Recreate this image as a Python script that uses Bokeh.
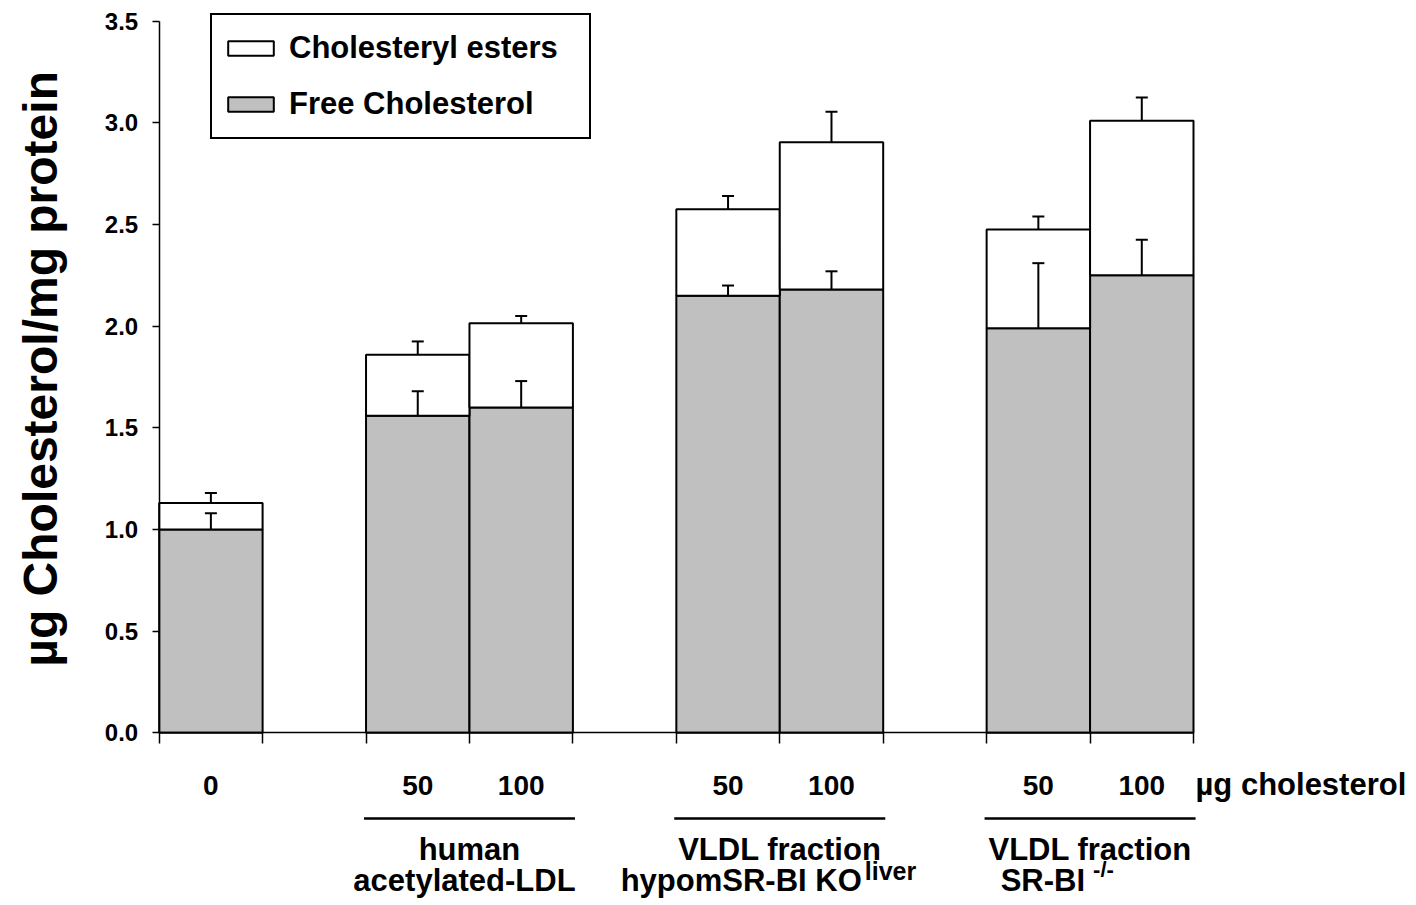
import math
from bokeh.plotting import figure
from bokeh.models import (Range1d, LinearAxis, FixedTicker, Whisker, TeeHead,
                          ColumnDataSource, Legend, LegendItem, PrintfTickFormatter,
                          CustomJSTickFormatter)
from bokeh.core.properties import value
from bokeh.embed import file_html
from bokeh.resources import INLINE

# ---------------- data ----------------
group_doses = [["0"], ["50", "100"], ["50", "100"], ["50", "100"]]
doses = ["0", "50", "100", "50", "100", "50", "100"]
free_chol = [1.00, 1.56, 1.60, 2.15, 2.18, 1.99, 2.25]
free_chol_sem = [0.08, 0.12, 0.13, 0.05, 0.09, 0.32, 0.175]
total_chol = [1.13, 1.86, 2.015, 2.575, 2.905, 2.475, 3.01]
total_chol_sem = [0.05, 0.065, 0.035, 0.065, 0.15, 0.065, 0.115]
group_line1 = ["", "human", "VLDL fraction", "VLDL fraction"]
group_line2 = ["", "acetylated-LDL", "hypomSR-BI KO", "SR-BI"]
group_sup = ["", "", "liver", "-/-"]
y_ticks = [0.0, 0.5, 1.0, 1.5, 2.0, 2.5, 3.0, 3.5]
dose_unit = "µg cholesterol"
y_title = "µg Cholesterol/mg protein"
legend_labels = ["Cholesteryl esters", "Free Cholesterol"]

# ---------------- layout from structure ----------------
left_edges, group_start, group_end = [], [], []
pos = 0.0
for gi, ds in enumerate(group_doses):
    if gi > 0:
        pos += 1.0  # one bar-width gap between groups
    group_start.append(pos)
    for _ in ds:
        left_edges.append(pos)
        pos += 1.0
    group_end.append(pos)
centers = [l + 0.5 for l in left_edges]
edges = sorted(set(left_edges + [l + 1.0 for l in left_edges]))
group_centers = [(s + e) / 2 for s, e in zip(group_start, group_end)]

FONT = value("Liberation Sans")
GRAY = "#c0c0c0"

src = ColumnDataSource(dict(
    x=centers, free=free_chol, total=total_chol,
    free_up=[v + e for v, e in zip(free_chol, free_chol_sem)],
    total_up=[v + e for v, e in zip(total_chol, total_chol_sem)],
))

p = figure(width=1416, height=905, output_backend="svg", toolbar_location=None,
           x_range=Range1d(-1.534, 12.156), y_range=Range1d(-0.8495, 3.602),
           x_axis_location=None, y_axis_location=None,
           min_border_left=0, min_border_top=0, min_border_right=0, min_border_bottom=0)
for g in p.grid:
    g.visible = False
p.outline_line_color = None

# y axis (drawn at x = 0)
yaxis = LinearAxis(ticker=FixedTicker(ticks=y_ticks), bounds=(0, 3.5), fixed_location=0,
                   formatter=PrintfTickFormatter(format="%.1f"))
yaxis.axis_line_width = 1.5
yaxis.major_tick_line_width = 1.5
yaxis.major_tick_out = 7
yaxis.major_tick_in = 0
yaxis.minor_tick_out = 0
yaxis.minor_tick_in = 0
yaxis.major_label_text_font = "Liberation Sans"
yaxis.major_label_text_font_style = "bold"
yaxis.major_label_text_font_size = "24px"
yaxis.major_label_text_color = "black"
yaxis.major_label_standoff = 14
p.add_layout(yaxis, "left")

# y title
p.text(x=[-1.15], y=[1.79], text=[y_title], angle=math.pi / 2,
       text_align="center", text_baseline="middle", text_font=FONT,
       text_font_style="bold", text_font_size="48px", text_color="black")

# x baseline with ticks at bar edges
xaxis = LinearAxis(ticker=FixedTicker(ticks=edges), fixed_location=0,
                   bounds=(0, group_end[-1]),
                   formatter=CustomJSTickFormatter(code="return ''"))
xaxis.axis_line_width = 1.5
xaxis.major_tick_line_width = 1.5
xaxis.major_tick_out = 11
xaxis.major_tick_in = 0
xaxis.minor_tick_out = 0
xaxis.minor_tick_in = 0
p.add_layout(xaxis, "below")

# dose labels under bars
dose_axis = LinearAxis(ticker=FixedTicker(ticks=centers), fixed_location=0,
                       major_label_overrides={c: d for c, d in zip(centers, doses)})
dose_axis.axis_line_color = None
dose_axis.major_tick_line_color = None
dose_axis.minor_tick_line_color = None
dose_axis.major_label_standoff = 37
dose_axis.major_label_text_font = "Liberation Sans"
dose_axis.major_label_text_font_style = "bold"
dose_axis.major_label_text_font_size = "28px"
dose_axis.major_label_text_color = "black"
p.add_layout(dose_axis, "below")

# bars
fc = p.vbar(x="x", width=1.0, bottom=0, top="free", source=src,
            fill_color=GRAY, line_color="black", line_width=2)
ce = p.vbar(x="x", width=1.0, bottom="free", top="total", source=src,
            fill_color="white", line_color="black", line_width=2)

for lo, up in (("free", "free_up"), ("total", "total_up")):
    w = Whisker(source=src, base="x", lower=lo, upper=up, dimension="height",
                lower_head=None, upper_head=TeeHead(size=12, line_width=2, line_color="black"),
                line_width=2, line_color="black", level="annotation")
    p.add_layout(w)

# unit label
p.text(x=[group_end[-1]], y=[-0.252], text=[dose_unit], text_align="left",
       text_baseline="alphabetic", text_font=FONT, text_font_style="bold",
       text_font_size="31px", text_color="black", x_offset=2)

# group lines and labels
lg = [i for i, t in enumerate(group_line1) if t]
p.segment(x0=[group_start[i] - 0.02 for i in lg], x1=[group_end[i] + 0.02 for i in lg],
          y0=[-0.421] * len(lg), y1=[-0.421] * len(lg), line_color="black", line_width=2.5)
p.text(x=[group_centers[i] for i in lg], y=[-0.572] * len(lg), text=[group_line1[i] for i in lg],
       text_align="center", text_baseline="alphabetic", text_font=FONT,
       text_font_style="bold", text_font_size="31px", text_color="black")
# second line: centered (no superscript)
c2 = [i for i in lg if not group_sup[i]]
p.text(x=[group_centers[i] for i in c2], y=[-0.727] * len(c2), text=[group_line2[i] for i in c2],
       text_align="center", text_baseline="alphabetic", text_font=FONT,
       text_font_style="bold", text_font_size="31px", text_color="black", x_offset=-5)
# second line with superscripts
s2 = [i for i in lg if group_sup[i]]
main_off = [82, -5]
sup_off = [85, 3]
sup_size = ["25px", "22px"]
sup_rise = [-10, -11]
for k, i in enumerate(s2):
    p.text(x=[group_centers[i]], y=[-0.727], text=[group_line2[i]],
           text_align="right", text_baseline="alphabetic", text_font=FONT,
           text_font_style="bold", text_font_size="31px", text_color="black",
           x_offset=main_off[k])
    p.text(x=[group_centers[i]], y=[-0.727], text=[group_sup[i]],
           text_align="left", text_baseline="alphabetic", text_font=FONT,
           text_font_style="bold", text_font_size=sup_size[k],
           text_color="black", x_offset=sup_off[k], y_offset=sup_rise[k])

legend = Legend(items=[LegendItem(label=legend_labels[0], renderers=[ce]),
                       LegendItem(label=legend_labels[1], renderers=[fc])],
                location=(210, 766), glyph_width=57, glyph_height=18, label_standoff=10,
                padding=10, spacing=10, margin=0, label_width=290, label_height=46,
                label_text_font="Liberation Sans", label_text_font_style="bold",
                label_text_font_size="31px", label_text_color="black",
                border_line_color="black", border_line_width=2, border_line_alpha=1.0,
                background_fill_color="white", background_fill_alpha=1.0)
p.add_layout(legend)

open("out.html", "w").write(file_html(p, INLINE))
